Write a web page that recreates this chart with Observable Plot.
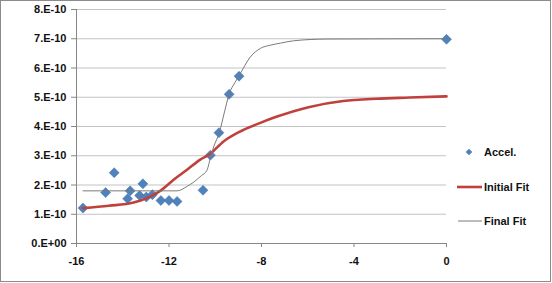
<!DOCTYPE html>
<html>
<head>
<meta charset="utf-8">
<script src="https://cdn.jsdelivr.net/npm/d3@7"></script>
<script src="https://cdn.jsdelivr.net/npm/@observablehq/plot@0.6"></script>
<style>
  html, body { margin: 0; padding: 0; background: #fff; }
  #chart { width: 552px; height: 283px; }
</style>
</head>
<body>
<div id="chart"></div>
<script>
// ---- data ----
const accelX = [-15.72, -14.74, -14.37, -13.79, -13.68, -13.27, -13.13, -12.98, -12.72, -12.35, -12.0, -11.65, -10.53, -10.21, -9.84, -9.40, -8.97, 0];
const accelY = [1.21e-10, 1.74e-10, 2.42e-10, 1.53e-10, 1.80e-10, 1.64e-10, 2.04e-10, 1.59e-10, 1.67e-10, 1.47e-10, 1.47e-10, 1.44e-10, 1.82e-10, 3.02e-10, 3.79e-10, 5.10e-10, 5.72e-10, 6.98e-10];

const initialX = [-15.72, -14.6, -13.53, -12.95, -12.38, -11.8, -11.22, -10.65, -10.23, -9.64, -9.0, -8.0, -7.36, -5.92, -4.47, -3.03, -1.59, 0];
const initialY = [1.21e-10, 1.29e-10, 1.40e-10, 1.55e-10, 1.80e-10, 2.18e-10, 2.52e-10, 2.87e-10, 3.06e-10, 3.49e-10, 3.80e-10, 4.14e-10, 4.33e-10, 4.67e-10, 4.87e-10, 4.95e-10, 4.99e-10, 5.03e-10];

const finalX = [-15.72, -11.65, -11.2, -10.93, -10.6, -10.36, -10.2, -10.07, -9.82, -9.6, -9.39, -9.15, -8.96, -8.48, -8.05, -7.62, -7.18, -6.62, -5.17, 0];
const finalY = [1.80e-10, 1.80e-10, 1.96e-10, 2.10e-10, 2.32e-10, 2.50e-10, 2.96e-10, 3.30e-10, 3.80e-10, 4.50e-10, 5.13e-10, 5.50e-10, 5.75e-10, 6.38e-10, 6.67e-10, 6.78e-10, 6.85e-10, 6.93e-10, 6.99e-10, 7.00e-10];

const xTicks = [-16, -12, -8, -4, 0];
const yTicks = [0, 1e-10, 2e-10, 3e-10, 4e-10, 5e-10, 6e-10, 7e-10, 8e-10];
const yTickLabels = ["0.E+00", "1.E-10", "2.E-10", "3.E-10", "4.E-10", "5.E-10", "6.E-10", "7.E-10", "8.E-10"];
const seriesNames = ["Accel.", "Initial Fit", "Final Fit"];

// ---- tables ----
const accel = accelX.map((x, i) => ({x, y: accelY[i]}));
const initial = initialX.map((x, i) => ({x, y: initialY[i]}));
const final = finalX.map((x, i) => ({x, y: finalY[i]}));

const axisGray = "#868686";
const gridGray = "#c3c3c3";
const blue = "#4f81bd";
const red = "#c0403c";
const darkGray = "#7a7a7a";

const plot = Plot.plot({
  width: 552,
  height: 283,
  marginLeft: 76,
  marginRight: 106,
  marginTop: 9,
  marginBottom: 40,
  style: {fontFamily: "'Liberation Sans', Arial, sans-serif", fontSize: "11px", fontWeight: "bold", color: "#111", background: "#fff"},
  x: {domain: [-16, 0]},
  y: {domain: [0, 8e-10]},
  marks: [
    Plot.gridY(yTicks.slice(1), {stroke: gridGray, strokeOpacity: 1}),
    Plot.axisY({
      ticks: yTicks,
      tickFormat: (d) => yTickLabels[yTicks.findIndex(t => Math.abs(t - d) < 1e-14)],
      tickSize: 5, tickPadding: 5, stroke: axisGray, fill: "#111", label: null
    }),
    Plot.axisX({
      ticks: xTicks, tickFormat: d => String(d),
      tickSize: 4, tickPadding: 10, stroke: axisGray, fill: "#111", label: null
    }),
    Plot.ruleY([0], {stroke: axisGray}),
    Plot.ruleX([-16], {stroke: axisGray}),
    Plot.dot(accel, {x: "x", y: "y", symbol: "diamond2", r: 4.5, fill: blue, stroke: "#4272ad", strokeWidth: 0.5}),
    Plot.line(initial, {x: "x", y: "y", stroke: red, strokeWidth: 2.6, curve: "monotone-x"}),
    Plot.line(final, {x: "x", y: "y", stroke: darkGray, strokeWidth: 1, curve: "monotone-x"})
  ]
});

document.getElementById("chart").appendChild(plot);

// ---- outer border and legend ----
const svg = d3.select(plot);
svg.insert("rect", ":first-child")
  .attr("x", 0.5).attr("y", 0.5).attr("width", 550).attr("height", 281)
  .attr("fill", "#fff").attr("stroke", "#8c8c8c").attr("stroke-width", 1);

const lg = svg.append("g")
  .attr("font-family", "'Liberation Sans', Arial, sans-serif")
  .attr("font-size", 11).attr("font-weight", "bold").attr("fill", "#111")
  .attr("text-anchor", "start");

// Accel.
lg.append("path")
  .attr("d", d3.symbol(d3.symbolDiamond2, 28)())
  .attr("transform", "translate(469,152)")
  .attr("fill", blue);
lg.append("text").attr("x", 484).attr("y", 152).attr("dy", "0.35em").attr("text-anchor", "start").text(seriesNames[0]);
// Initial Fit
lg.append("line").attr("x1", 457).attr("x2", 482).attr("y1", 187).attr("y2", 187)
  .attr("stroke", red).attr("stroke-width", 2.6);
lg.append("text").attr("x", 484).attr("y", 187).attr("dy", "0.35em").attr("text-anchor", "start").text(seriesNames[1]);
// Final Fit
lg.append("line").attr("x1", 458).attr("x2", 482).attr("y1", 221).attr("y2", 221)
  .attr("stroke", darkGray).attr("stroke-width", 1);
lg.append("text").attr("x", 484).attr("y", 221).attr("dy", "0.35em").attr("text-anchor", "start").text(seriesNames[2]);
</script>
</body>
</html>
